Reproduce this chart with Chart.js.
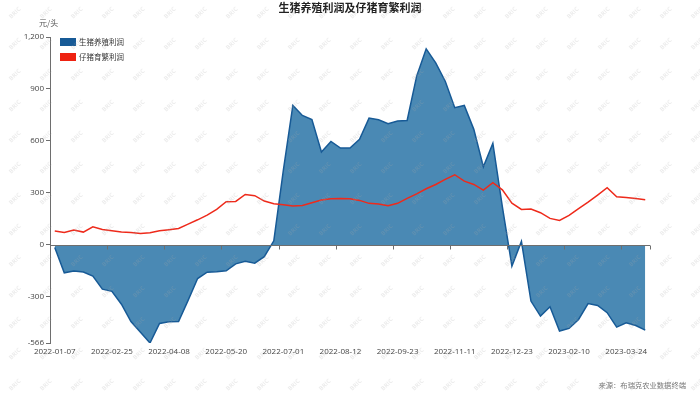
<!DOCTYPE html>
<html>
<head>
<meta charset="utf-8">
<script src="https://cdn.jsdelivr.net/npm/chart.js@4/dist/chart.umd.min.js"></script>
<style>
  body { margin: 0; background: #fff; }
  canvas { display: block; }
</style>
</head>
<body>
<canvas id="profit_chart" width="700" height="394"></canvas>
<script>
const dates = [
  '2022-01-07','2022-01-14','2022-01-21','2022-01-28','2022-02-11','2022-02-18','2022-02-25',
  '2022-03-04','2022-03-11','2022-03-18','2022-03-25','2022-04-01','2022-04-08',
  '2022-04-15','2022-04-22','2022-04-29','2022-05-06','2022-05-13','2022-05-20',
  '2022-05-27','2022-06-03','2022-06-10','2022-06-17','2022-06-24','2022-07-01',
  '2022-07-08','2022-07-15','2022-07-22','2022-07-29','2022-08-05','2022-08-12',
  '2022-08-19','2022-08-26','2022-09-02','2022-09-09','2022-09-16','2022-09-23',
  '2022-09-30','2022-10-14','2022-10-21','2022-10-28','2022-11-04','2022-11-11',
  '2022-11-18','2022-11-25','2022-12-02','2022-12-09','2022-12-16','2022-12-23',
  '2022-12-30','2023-01-06','2023-01-13','2023-01-20','2023-02-03','2023-02-10',
  '2023-02-17','2023-02-24','2023-03-03','2023-03-10','2023-03-17','2023-03-24',
  '2023-03-31','2023-04-07'
];

// 生猪养殖利润 (元/头)
const hogProfit = [
  -15, -161, -150, -156, -180, -255, -268, -342, -442, -504, -566, -453, -443,
  -442, -320, -194, -157, -155, -149, -109, -94, -105, -68, 24, 430,
  805, 747, 724, 536, 597, 559, 559, 609, 732, 722, 699, 715,
  718, 974, 1132, 1051, 945, 792, 805, 667, 451, 586, 220, -122,
  20, -324, -411, -357, -497, -482, -430, -338, -349, -391, -474, -449,
  -465, -492
];

// 仔猪育繁利润 (元/头)
const pigletProfit = [
  80, 72, 86, 74, 105, 89, 82, 74, 72, 66, 70, 82, 88,
  95, 120, 145, 172, 205, 249, 251, 291, 284, 253, 238, 232,
  224, 228, 243, 259, 267, 268, 267, 257, 240, 236, 226, 240,
  269, 295, 324, 349, 378, 405, 368, 349, 316, 359, 318, 241,
  205, 207, 186, 153, 141, 170, 209, 247, 288, 330, 278, 274,
  268, 261
];

const yTicks = [-566, -300, 0, 300, 600, 900, 1200];

const FONT = '"Open Sans", "Noto Sans CJK SC", sans-serif';
const CJK = '"Noto Sans CJK SC", "Open Sans", sans-serif';

// zero axis line with tick marks, legend, texts, watermark
const decorPlugin = {
  id: 'decor',
  afterDatasetsDraw(chart) {
    const { ctx, chartArea: a, scales: { x, y } } = chart;
    const y0 = Math.round(y.getPixelForValue(0)) + 0.5;
    const half = (x.getPixelForValue(1) - x.getPixelForValue(0)) / 2;
    ctx.save();
    ctx.strokeStyle = '#6e6e6e';
    ctx.lineWidth = 1;
    ctx.beginPath();
    ctx.moveTo(a.left, y0);
    ctx.lineTo(a.right, y0);
    const marks = [];
    for (let i = 6; i < dates.length; i += 6) marks.push(x.getPixelForValue(i) - half);
    marks.push(a.right);
    marks.forEach(px => {
      const xx = Math.round(px) + 0.5;
      ctx.moveTo(xx, y0);
      ctx.lineTo(xx, y0 + 4);
    });
    ctx.stroke();
    ctx.restore();
  },
  afterDraw(chart) {
    const { ctx, chartArea: a } = chart;
    ctx.save();

    // title
    ctx.fillStyle = '#222';
    ctx.font = 'bold 11px ' + CJK;
    ctx.textAlign = 'center';
    ctx.textBaseline = 'middle';
    ctx.fillText('生猪养殖利润及仔猪育繁利润', 350, 8);

    // unit
    ctx.fillStyle = '#555';
    ctx.font = '8px ' + CJK;
    ctx.textAlign = 'left';
    ctx.fillText('元/头', 39, 23);

    // legend
    ctx.font = '7.5px ' + CJK;
    chart.data.datasets.forEach((ds, k) => {
      const top = 38 + k * 15;
      ctx.fillStyle = ds.legendColor;
      ctx.fillRect(a.left + 10, top, 16, 8);
      ctx.fillStyle = '#333';
      ctx.fillText(ds.label, a.left + 29, top + 4);
    });

    // source
    ctx.fillStyle = '#777';
    ctx.font = '7.3px ' + CJK;
    ctx.textAlign = 'right';
    ctx.fillText('来源：布瑞克农业数据终端', 686, 385);

    // watermark
    ctx.fillStyle = 'rgba(170,170,170,0.22)';
    ctx.font = 'bold 6px ' + FONT;
    ctx.textAlign = 'center';
    for (let wy = 13; wy < 394; wy += 31) {
      for (let wx = 15; wx < 700; wx += 31) {
        ctx.save();
        ctx.translate(wx, wy);
        ctx.rotate(-Math.PI / 4);
        ctx.fillText('BRIC', 0, 0);
        ctx.restore();
      }
    }
    ctx.restore();
  }
};

const config_profit = {
  type: 'line',
  data: {
    labels: dates,
    datasets: [
      {
        label: '生猪养殖利润',
        data: hogProfit,
        borderColor: '#175a96',
        backgroundColor: '#4a89b4',
        legendColor: '#175a96',
        borderWidth: 1.5,
        fill: 'origin',
        pointRadius: 0,
        tension: 0,
        order: 1
      },
      {
        label: '仔猪育繁利润',
        data: pigletProfit,
        borderColor: '#ee2a1b',
        backgroundColor: '#ee2a1b',
        legendColor: '#ee2211',
        borderWidth: 1.5,
        fill: false,
        pointRadius: 0,
        tension: 0,
        order: 0
      }
    ]
  },
  options: {
    responsive: false,
    devicePixelRatio: 1,
    animation: false,
    layout: { padding: { top: 37, right: 50, bottom: 31, left: 0 } },
    plugins: {
      legend: { display: false },
      title: { display: false },
      tooltip: { enabled: false }
    },
    scales: {
      x: {
        type: 'category',
        offset: true,
        grid: { display: false, drawTicks: false },
        border: { display: false },
        ticks: {
          autoSkip: false,
          maxRotation: 0,
          minRotation: 0,
          padding: 4,
          color: '#444',
          font: { family: FONT, size: 8 },
          callback: (v, i) => (i % 6 === 0 ? dates[i] : '')
        },
        afterFit: s => { s.height = 20; }
      },
      y: {
        min: -566,
        max: 1200,
        afterBuildTicks: s => { s.ticks = yTicks.map(v => ({ value: v })); },
        grid: { drawOnChartArea: false, tickLength: 4, color: '#6e6e6e' },
        border: { display: true, color: '#6e6e6e', width: 1 },
        ticks: {
          padding: 2,
          color: '#444',
          font: { family: FONT, size: 8 },
          callback: v => v.toLocaleString('en-US')
        },
        afterFit: s => { s.width = 50; }
      }
    }
  },
  plugins: [decorPlugin]
};

const ctx_profit = document.getElementById('profit_chart').getContext('2d');
const chart_profit = new Chart(ctx_profit, config_profit);
</script>
</body>
</html>
